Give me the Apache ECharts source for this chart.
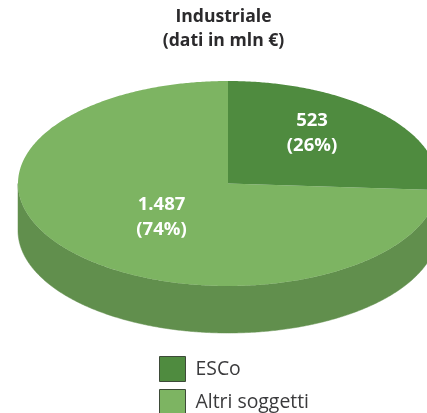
<!DOCTYPE html>
<html>
<head>
<meta charset="utf-8">
<style>html,body{margin:0;padding:0;background:#fff}#c{width:427px;height:413px}</style>
<script src="https://cdn.jsdelivr.net/npm/echarts@6/dist/echarts.min.js"></script>
</head>
<body>
<div id="c"></div>
<script>
var categories = ['ESCo', 'Altri soggetti'];
var values = [523, 1487];
var valueLabels = ['523', '1.487'];
var percentLabels = ['(26%)', '(74%)'];

var colors = ['#4F8B3F', '#7DB462'];
var wallColor = '#618F4D';
var cx = 228, cy = 183.5, rx = 210, ry = 102.5, depth = 47;
var labelPos = [[312, 133], [161.5, 217.5]];

var total = values.reduce(function (a, b) { return a + b; }, 0);
function pt(deg, dy) {
  var a = deg * Math.PI / 180;
  return [cx + rx * Math.sin(a), cy - ry * Math.cos(a) + (dy || 0)];
}
function arc(from, to, dy) {
  var pts = [], n = Math.max(2, Math.ceil(Math.abs(to - from) * 2));
  for (var i = 0; i <= n; i++) pts.push(pt(from + (to - from) * i / n, dy));
  return pts;
}
function makeRender(idx) {
  return function (params, api) {
    var before = 0;
    for (var i = 0; i < idx; i++) before += values[i];
    var start = before / total * 360;
    var end = start + api.value(0) / total * 360;
    var children = [];
    var wFrom = Math.max(start, 90), wTo = Math.min(end, 270);
    if (wTo > wFrom) {
      children.push({
        type: 'polygon',
        shape: { points: arc(wFrom, wTo, 0).concat(arc(wTo, wFrom, depth)) },
        style: { fill: wallColor, stroke: wallColor, lineWidth: 0.5 }
      });
    }
    children.push({
      type: 'polygon',
      shape: { points: [[cx, cy]].concat(arc(start, end, 0)) },
      style: { fill: colors[idx] }
    });
    children.push({
      type: 'text',
      z2: 10,
      style: {
        x: labelPos[idx][0], y: labelPos[idx][1],
        text: valueLabels[idx] + '\n' + percentLabels[idx],
        fill: '#fff',
        font: '700 18.5px "Open Sans"',
        lineHeight: 25,
        align: 'center',
        verticalAlign: 'middle'
      }
    });
    return { type: 'group', children: children };
  };
}
var chart = echarts.init(document.getElementById('c'), null, { renderer: 'canvas' });
chart.setOption({
  animation: false,
  title: {
    text: 'Industriale\n(dati in mln €)',
    left: 223.5, top: 5, padding: 0, textAlign: 'center',
    textStyle: { fontFamily: 'Open Sans', fontWeight: 700, fontSize: 17.6, lineHeight: 24, color: '#2b2a2c' }
  },
  legend: {
    orient: 'vertical', left: 159, top: 356, height: 120,
    itemWidth: 26, itemHeight: 25, itemGap: 7, padding: 0,
    icon: 'rect',
    data: categories,
    itemStyle: { borderColor: '#3d4a38', borderWidth: 1 },
    textStyle: { fontFamily: 'Open Sans', fontSize: 19.4, color: '#3a3a3c', padding: [2, 0, 0, 5] }
  },
  series: categories.map(function (name, i) {
    return {
      type: 'custom',
      name: name,
      coordinateSystem: 'none',
      renderItem: makeRender(i),
      itemStyle: { color: colors[i] },
      data: [[values[i]]],
      z: i === 0 ? 3 : 2
    };
  })
});
</script>
</body>
</html>
